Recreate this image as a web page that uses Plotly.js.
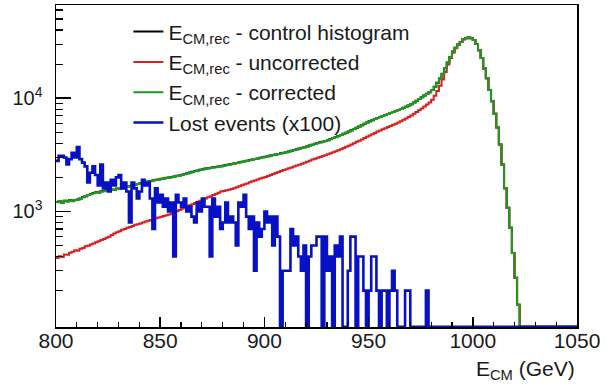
<!DOCTYPE html>
<html>
<head>
<meta charset="utf-8">
<script src="https://cdn.plot.ly/plotly-3.0.1.min.js"></script>
<style>
html, body { margin: 0; padding: 0; background: #fff; }
#chart { width: 611px; height: 387px; }
</style>
</head>
<body>
<div id="chart"></div>
<script>
// Histogram binning (200 bins, 800-1050 GeV)
const energyMin = 800;
const energyMax = 1050;
const binWidth = 1.25;

// E_CM,rec - corrected (events per bin)
const correctedCounts = [
  1205,1238,1190,1242, 1226,1251,1233,1262,
  1270,1302,1338,1360, 1395,1420,1452,1470,
  1468,1502,1512,1540, 1535,1560,1548,1590,
  1592,1620,1641,1655, 1675,1700,1722,1748,
  1770,1790,1815,1832, 1850,1880,1898,1915,
  1940,1952,1978,1990, 2010,2030,2058,2075,
  2100,2135,2160,2195, 2225,2262,2290,2330,
  2350,2378,2400,2418, 2440,2462,2485,2502,
  2530,2560,2590,2615, 2645,2678,2710,2738,
  2770,2800,2835,2866, 2900,2935,2972,3005,
  3040,3070,3115,3145, 3180,3220,3255,3290,
  3335,3385,3430,3480, 3530,3585,3640,3690,
  3750,3820,3885,3950, 4010,4070,4130,4190,
  4260,4350,4445,4530, 4625,4730,4850,4960,
  5070,5200,5340,5480, 5630,5780,5940,6090,
  6240,6390,6540,6690, 6830,6970,7120,7260,
  7400,7560,7720,7870, 8030,8230,8420,8610,
  8850,9180,9510,9850, 10180,10550,10920,11300,
  11800,12600,13700,14900, 16400,18500,20700,23100,
  25800,27900,29800,31400, 33100,33900,34300,33900,
  32600,30100,26500,22600, 18300,15000,11800,9400,
  7300,5500,3900,2600, 1600,1080,720,430,
  260,150,80,40, 15,5,0,0,
  0,0,0,0, 0,0,0,0, 0,0,0,0, 0,0,0,0
];

// E_CM,rec - control histogram (events per bin)
const controlCounts = [
  1210,1240,1195,1245, 1230,1255,1238,1265,
  1275,1305,1340,1365, 1398,1425,1455,1475,
  1472,1505,1515,1545, 1540,1565,1552,1595,
  1598,1625,1645,1660, 1680,1705,1728,1752,
  1775,1795,1820,1838, 1855,1885,1905,1920,
  1945,1958,1985,1998, 2018,2036,2065,2082,
  2110,2145,2170,2205, 2238,2275,2302,2340,
  2362,2390,2412,2430, 2452,2475,2495,2512,
  2540,2570,2600,2625, 2652,2685,2718,2745,
  2778,2808,2842,2872, 2905,2940,2978,3010,
  3045,3075,3120,3150, 3185,3225,3260,3295,
  3340,3390,3435,3485, 3535,3590,3645,3695,
  3755,3825,3890,3955, 4015,4075,4135,4195,
  4265,4355,4450,4535, 4630,4735,4855,4965,
  5075,5205,5345,5485, 5635,5785,5945,6095,
  6245,6395,6545,6695, 6835,6975,7125,7265,
  7405,7565,7725,7875, 8035,8235,8425,8615,
  8855,9185,9515,9855, 10185,10555,10925,11305,
  11805,12605,13705,14905, 16405,18505,20705,23105,
  25800,27900,29800,31400, 33100,33900,34300,33900,
  32600,30100,26500,22600, 18300,15000,11800,9400,
  7300,5500,3900,2600, 1600,1080,720,430,
  260,150,80,40, 15,5,0,0,
  0,0,0,0, 0,0,0,0, 0,0,0,0, 0,0,0,0
];

// E_CM,rec - uncorrected (events per bin)
const uncorrectedCounts = [
  388,402,396,418, 415,433,440,455,
  450,468,476,492, 498,510,522,536,
  545,560,572,585, 598,620,638,655,
  668,690,700,720, 730,745,762,770,
  785,800,815,828, 840,858,870,885,
  900,912,925,940, 955,980,1005,1030,
  1058,1085,1110,1135, 1160,1190,1220,1245,
  1275,1300,1335,1365, 1395,1430,1465,1498,
  1520,1540,1555,1578, 1600,1635,1670,1700,
  1735,1770,1810,1845, 1880,1915,1950,1982,
  2015,2055,2100,2140, 2185,2230,2280,2320,
  2365,2405,2450,2490, 2540,2590,2645,2695,
  2750,2810,2870,2925, 2980,3030,3090,3140,
  3195,3260,3330,3400, 3470,3550,3640,3720,
  3810,3910,4010,4120, 4220,4330,4450,4570,
  4690,4810,4940,5070, 5190,5310,5440,5560,
  5690,5820,5960,6100, 6250,6440,6630,6830,
  7050,7300,7560,7820, 8100,8450,8800,9150,
  9700,10500,11600,12900, 14600,17000,19800,22600,
  25200,27600,29600,31300, 33100,33900,34300,33900,
  32600,30100,26500,22600, 18300,15000,11800,9400,
  7300,5500,3900,2600, 1600,1080,720,430,
  260,150,80,40, 15,5,0,0,
  0,0,0,0, 0,0,0,0, 0,0,0,0, 0,0,0,0
];

// Lost events (raw counts per bin, drawn x100)
const lostScale = 100;
const lostCounts = [
  28,31,31,30,26,29,33,30,
  37,29,27,25,18,22,25,21,
  17,26,16,18,15,19,17,20,
  21,16,18,15,8,18,16,13,
  15,19,17,18,13,7,16,12,
  14,11,13,10,12,4,14,12,
  11,13,10,11,9,8,12,10,
  13,11,11,4,13,9,11,7,
  8,12,8,9,8,5,12,11,
  14,9,7,9,3,8,6,7,
  10,8,9,5,9,6,0,3,
  3,3,7,5,6,4,3,5,
  0,4,5,5,6,6,0,6,
  3,4,0,5,4,6,0,0,
  3,6,6,0,4,4,2,0,
  2,4,4,2,0,2,2,0,
  2,3,2,0,0,0,2,2,
  0,0,0,0,0,0,2,0,
  0,0,0,0,0,0,0,0,
  0,0,0,0,0,0,0,0,
  0,0,0,0,0,0,0,0,
  0,0,0,0,0,0,0,0,
  0,0,0,0,0,0,0,0,
  0,0,0,0,0,0,0,0,
  0,0,0,0,0,0,0,0
];

const seriesNames = [
  'E<sub>CM,rec</sub> - control histogram',
  'E<sub>CM,rec</sub> - uncorrected',
  'E<sub>CM,rec</sub> - corrected',
  'Lost events (x100)'
];
const yTickVals = [1000, 10000];
const yTickText = ['10<sup>3</sup>', '10<sup>4</sup>'];
const xAxisLabel = 'E<sub>CM</sub> (GeV)';

// log-axis range (decades) and floor so empty bins sit on the frame
const yLogRange = [1.98, 4.823];
const emptyFloor = Math.pow(10, yLogRange[0]) * 1.006;

function stepTrace(name, counts, scale, color, width) {
  const x = [], y = [];
  for (let i = 0; i < counts.length; i++) {
    x.push(energyMin + i * binWidth);
    y.push(Math.max(counts[i] * scale, emptyFloor));
  }
  x.push(energyMax);
  y.push(y[y.length - 1]);
  return {
    type: 'scatter', mode: 'lines', name: name, x: x, y: y,
    line: { shape: 'hv', color: color, width: width },
    hoverinfo: 'x+y'
  };
}

const minorY = [];
for (let d = 100; d <= 10000; d *= 10) {
  for (let m = 2; m <= 9; m++) minorY.push(m * d);
}

const FONT = 'Liberation Sans, Arial, Helvetica, sans-serif';

const data = [
  stepTrace(seriesNames[0], controlCounts, 1, '#000000', 2),
  stepTrace(seriesNames[1], uncorrectedCounts, 1, '#d42222', 2),
  stepTrace(seriesNames[2], correctedCounts, 1, '#1f9a1f', 2),
  stepTrace(seriesNames[3], lostCounts, lostScale, '#0610c4', 2.6)
];

const layout = {
  width: 611, height: 387,
  margin: { l: 56, r: 34, t: 5, b: 60 },
  paper_bgcolor: '#ffffff', plot_bgcolor: '#ffffff',
  font: { family: FONT, size: 20, color: '#1a1a1a' },
  showlegend: true,
  legend: {
    x: 0.139, y: 0.98, xanchor: 'left', yanchor: 'top',
    bgcolor: 'rgba(255,255,255,0)', borderwidth: 0,
    font: { family: FONT, size: 21, color: '#1a1a1a' },
    tracegroupgap: 0
  },
  xaxis: {
    range: [energyMin, energyMax], dtick: 50, tick0: 800,
    ticks: 'inside', ticklen: 10, tickwidth: 1.5, tickcolor: '#000',
    minor: { dtick: 10, ticks: 'inside', ticklen: 5, tickwidth: 1.2, tickcolor: '#000' },
    showline: true, linecolor: '#000', linewidth: 1.5, mirror: true,
    showgrid: false, zeroline: false,
    tickfont: { family: FONT, size: 21, color: '#1a1a1a' },
    ticklabelstandoff: -6
  },
  yaxis: {
    type: 'log', range: yLogRange,
    tickvals: yTickVals, ticktext: yTickText,
    ticks: 'inside', ticklen: 15, tickwidth: 1.5, tickcolor: '#000',
    minor: { tickvals: minorY, ticks: 'inside', ticklen: 7, tickwidth: 1.2, tickcolor: '#000' },
    showline: true, linecolor: '#000', linewidth: 1.5, mirror: true,
    showgrid: false, zeroline: false,
    tickfont: { family: FONT, size: 20, color: '#1a1a1a' },
    ticklabelstandoff: 8
  },
  annotations: [{
    text: xAxisLabel, xref: 'paper', yref: 'paper',
    x: 1.0, y: -0.135, xanchor: 'right', yanchor: 'middle',
    showarrow: false, font: { family: FONT, size: 21, color: '#1a1a1a' }
  }]
};

Plotly.newPlot('chart', data, layout, { displayModeBar: false, staticPlot: true });
</script>
</body>
</html>
